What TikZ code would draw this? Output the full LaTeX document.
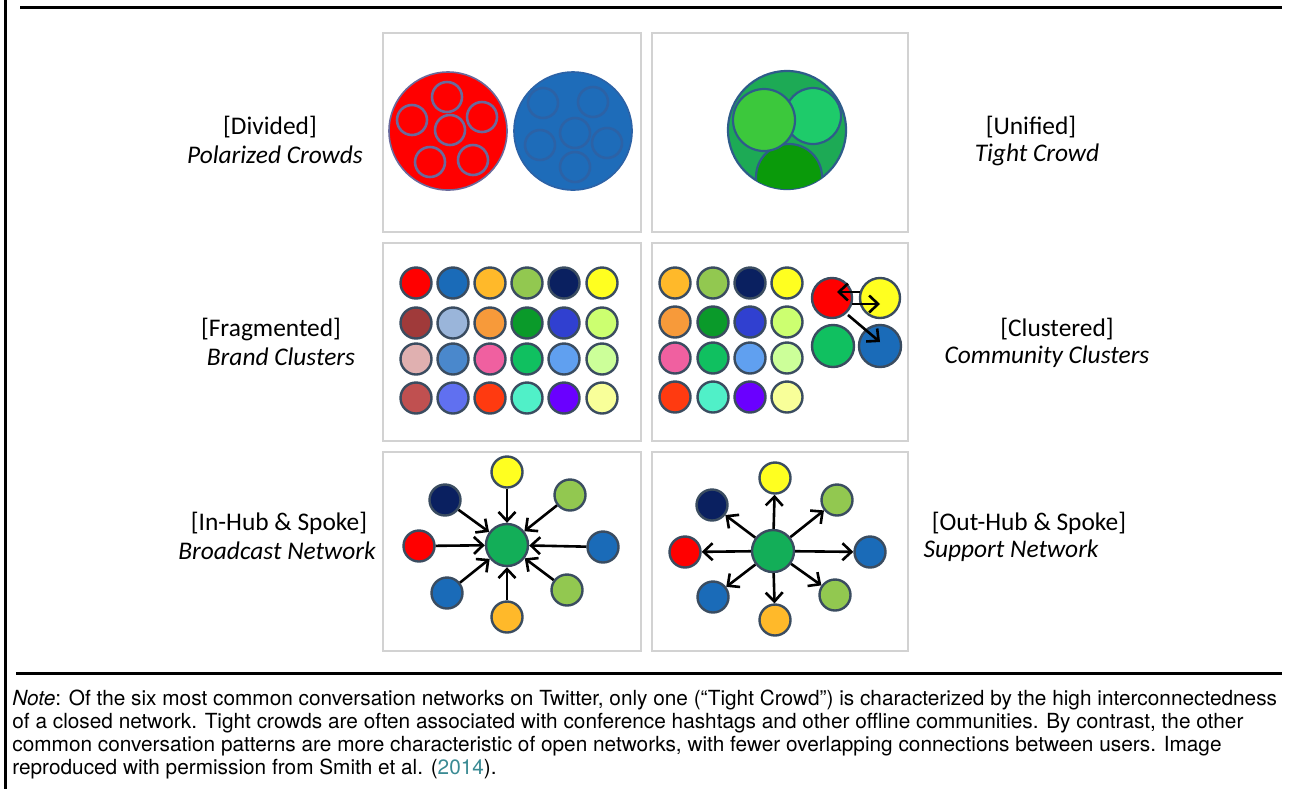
\documentclass[tikz,border=0pt]{standalone}
\usepackage{fontspec}
\setmainfont{TeX Gyre Heros}
\newfontfamily\calibri{Carlito}
\usetikzlibrary{arrows.meta,calc}
\definecolor{panelgray}{HTML}{D2D2D2}
\definecolor{rim}{HTML}{3A4C60}
\definecolor{citeteal}{HTML}{3A8A93}
\definecolor{polred}{HTML}{FF0000}
\definecolor{polblue}{HTML}{1E6CB9}
\definecolor{redring}{HTML}{6A6A9C}
\definecolor{bluering}{HTML}{2C62A6}
\definecolor{tightgreen}{HTML}{1DAA55}
\definecolor{tightrim}{HTML}{2E5C8A}
\definecolor{tightlime}{HTML}{3CC83C}
\definecolor{tightmint}{HTML}{1ECB6A}
\definecolor{tightdark}{HTML}{0A9A0A}
\definecolor{hubgreen}{HTML}{13AE58}
% grid colours, row by column
\definecolor{c11}{HTML}{FF0000}
\definecolor{c12}{HTML}{1A6BB8}
\definecolor{c13}{HTML}{FFB92A}
\definecolor{c14}{HTML}{92C850}
\definecolor{c15}{HTML}{0A2060}
\definecolor{c16}{HTML}{FFFF20}
\definecolor{c21}{HTML}{A03A3A}
\definecolor{c22}{HTML}{9AB5DA}
\definecolor{c23}{HTML}{F79A3A}
\definecolor{c24}{HTML}{0A9A2A}
\definecolor{c25}{HTML}{3040D0}
\definecolor{c26}{HTML}{CCFF70}
\definecolor{c31}{HTML}{E0B0B0}
\definecolor{c32}{HTML}{4A88CC}
\definecolor{c33}{HTML}{F060A0}
\definecolor{c34}{HTML}{10C060}
\definecolor{c35}{HTML}{60A0F0}
\definecolor{c36}{HTML}{CCFF99}
\definecolor{c41}{HTML}{C05050}
\definecolor{c42}{HTML}{6070F0}
\definecolor{c43}{HTML}{FF3A10}
\definecolor{c44}{HTML}{50F0C8}
\definecolor{c45}{HTML}{6A00FF}
\definecolor{c46}{HTML}{F8FF99}
\tikzset{
  panel/.style={rectangle, draw=panelgray, line width=1.2pt, fill=white, inner sep=0pt},
  dot/.style={circle, draw=rim, line width=1.2pt, inner sep=0pt, minimum size=15.5pt, fill=#1},
  hub/.style={dot=#1, minimum size=21pt},
  blob/.style={circle, draw=#1, line width=0.8pt, inner sep=0pt, minimum size=59pt},
  ring/.style={circle, draw=#1, line width=1.3pt, inner sep=0pt, minimum size=15pt},
  lbl/.style={font=\calibri\fontsize{12.7}{14}\selectfont, inner sep=0pt},
  flow/.style={-{Straight Barb[length=4.5pt,width=8.5pt]}, draw=black, line width=1.3pt},
  rulebar/.style={draw=black, line width=1.5pt},
}
\begin{document}
\begin{tikzpicture}[x=0.5pt, y=-0.5pt]
\useasboundingbox (0,0) rectangle (1294,789);
\draw[rulebar] (5,0) -- (5,789);
\draw[rulebar] (20,7) -- (1282,7);
\draw[rulebar] (16,673) -- (1282,673);

% panels
\node[panel, minimum width=129pt, minimum height=99.5pt] (pDiv) at (512,132.5) {};
\node[panel, minimum width=128pt, minimum height=99.5pt] (pUni) at (780,132.5) {};
\node[panel, minimum width=129pt, minimum height=99pt] (pFra) at (512,342) {};
\node[panel, minimum width=128pt, minimum height=99pt] (pClu) at (780,342) {};
\node[panel, minimum width=129pt, minimum height=99.5pt] (pIn) at (512,551.5) {};
\node[panel, minimum width=128pt, minimum height=99.5pt] (pOut) at (780,551.5) {};

% labels
\node[lbl] (tDiv) at (270,127) {[Divided]};
\node[lbl] (sDiv) at (275,155) {\itshape Polarized Crowds};
\node[lbl] (tFra) at (271,329) {[Fragmented]};
\node[lbl] (sFra) at (281,357) {\itshape Brand Clusters};
\node[lbl] (tIn) at (279,523) {[In-Hub \& Spoke]};
\node[lbl] (sIn) at (277,551) {\itshape Broadcast Network};
\node[lbl] (tUni) at (1031,127) {[Unified]};
\node[lbl] (sUni) at (1037,155) {\itshape Tight Crowd};
\node[lbl] (tClu) at (1057,329) {[Clustered]};
\node[lbl] (sClu) at (1047,357) {\itshape Community Clusters};
\node[lbl] (tOut) at (1029,523) {[Out-Hub \& Spoke]};
\node[lbl] (sOut) at (1011,551) {\itshape Support Network};

% polarized crowds
\node[blob=redring, fill=polred] (bRed) at (448,131) {};
\node[blob=bluering, fill=polblue] (bBlue) at (573,131) {};
\foreach \x/\y in {447/97, 412/120, 482/117, 450/130, 430/162, 473/160}
  \node[ring=redring] at (\x,\y) {};
\foreach \x/\y in {543/103, 593/102, 575/133, 540/145, 607/143, 575/167}
  \node[ring=bluering] at (\x,\y) {};

% tight crowd
\node[blob=tightrim, fill=tightgreen, line width=1.1pt] (bTight) at (787,130) {};
\begin{scope}
  \clip (787,130) circle[radius=59];
  \filldraw[fill=tightdark, draw=tightrim, line width=1.1pt] (789,177) circle[radius=33];
\end{scope}
\node[circle, fill=tightmint, draw=tightrim, line width=1.1pt, minimum size=28pt] (bMint) at (813,116) {};
\node[circle, fill=tightlime, draw=tightrim, line width=1.1pt, minimum size=31pt] (bLime) at (764,120) {};

% brand clusters
\foreach \r/\y in {1/283, 2/323, 3/359, 4/398}
  \foreach \k/\x in {1/416, 2/453, 3/490, 4/527, 5/564, 6/602}
    \node[dot=c\r\k] (f\r\k) at (\x,\y) {};

% community clusters
\foreach \r/\y in {1/283, 2/322, 3/358, 4/397}
  \foreach \k/\x in {3/675, 4/713, 5/750, 6/787}
    \node[dot=c\r\k] (k\r\k) at (\x,\y) {};
\node[dot=polred, minimum size=20pt] (cRed) at (832,298) {};
\node[dot=c16, minimum size=20pt] (cYel) at (880,298) {};
\node[dot=c34, minimum size=21pt] (cGrn) at (833,346) {};
\node[dot=c12, minimum size=21pt] (cBlu) at (880,346) {};
\draw[flow] ($(cYel.center)+(-20,-6)$) -- ($(cRed.center)+(5,-6)$);
\draw[flow] ($(cRed.center)+(20,6)$) -- ($(cYel.center)+(0,6)$);
\draw[flow] ($(cRed.center)+(16,17)$) -- ($(cBlu.center)+(0,-4)$);

% broadcast network
\node[hub=hubgreen] (inHub) at (507,545) {};
\node[dot=c16] (inN) at (507,472) {};
\node[dot=c14] (inNE) at (570,495) {};
\node[dot=c12] (inE) at (603,547) {};
\node[dot=c14] (inSE) at (567,590) {};
\node[dot=c13] (inS) at (507,617) {};
\node[dot=c12] (inSW) at (447,593) {};
\node[dot=polred] (inW) at (419,546) {};
\node[dot=c15] (inNW) at (445,500) {};
\foreach \s in {inN, inNE, inE, inSE, inS, inSW, inW, inNW}
  \draw[flow] (\s) -- (inHub);

% support network
\node[hub=hubgreen] (outHub) at (773,551) {};
\node[dot=c16] (outN) at (775,478) {};
\node[dot=c14] (outNE) at (837,500) {};
\node[dot=c12] (outE) at (870,552) {};
\node[dot=c14] (outSE) at (835,595) {};
\node[dot=c13] (outS) at (775,620) {};
\node[dot=c12] (outSW) at (713,597) {};
\node[dot=polred] (outW) at (685,552) {};
\node[dot=c15] (outNW) at (712,505) {};
\foreach \s in {outN, outNE, outE, outSE, outS, outSW, outW, outNW}
  \draw[flow] (outHub) -- (\s);

% note
\node[anchor=north west, align=left, inner sep=0pt, font=\fontsize{10.4}{11.5}\selectfont] (note) at (12,690)
 {\textit{Note}: Of the six most common conversation networks on Twitter, only one (“Tight Crowd”) is characterized by the high interconnectedness\\
  of a closed network. Tight crowds are often associated with conference hashtags and other offline communities. By contrast, the other\\
  common conversation patterns are more characteristic of open networks, with fewer overlapping connections between users. Image\\
  reproduced with permission from Smith et al. (\textcolor{citeteal}{2014}).};
\end{tikzpicture}
\end{document}
